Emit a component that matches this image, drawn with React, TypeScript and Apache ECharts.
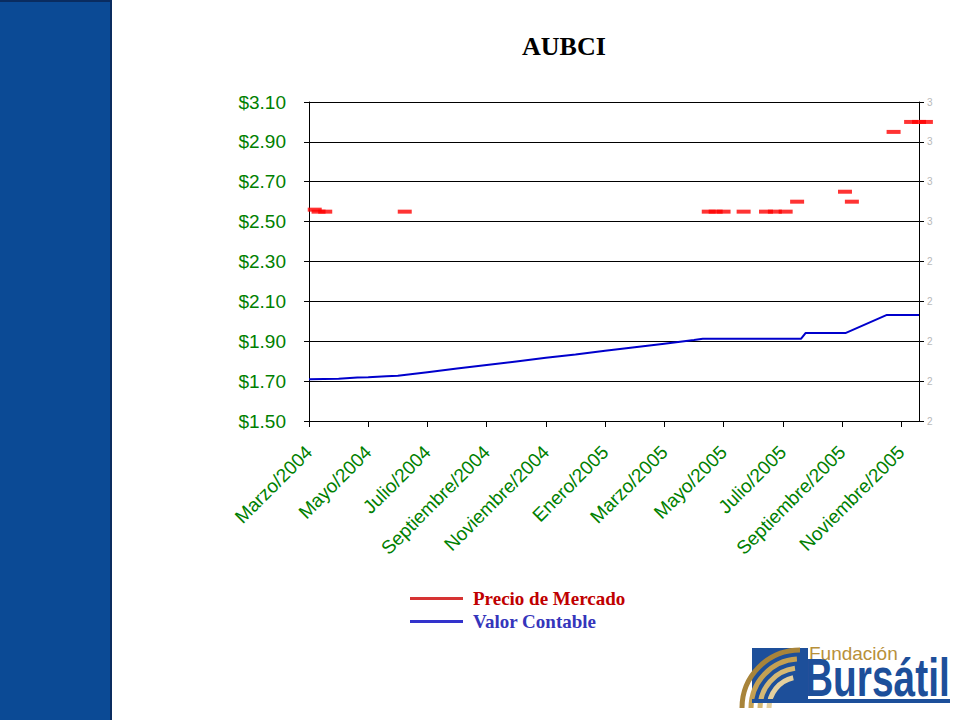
import React, { useEffect, useRef } from "react";
import * as echarts from "echarts";

// ---- data ----
const xTickLabels = [
  "Marzo/2004", "Mayo/2004", "Julio/2004", "Septiembre/2004", "Noviembre/2004",
  "Enero/2005", "Marzo/2005", "Mayo/2005", "Julio/2005", "Septiembre/2005", "Noviembre/2005",
];

const marketDates = [
  "2004-03-07", "2004-03-11", "2004-03-18", "2004-06-08",
  "2005-04-16", "2005-04-23", "2005-05-01", "2005-05-22",
  "2005-06-14", "2005-06-23", "2005-07-04", "2005-07-16",
  "2005-09-04", "2005-09-11", "2005-10-24",
  "2005-11-11", "2005-11-19", "2005-11-26",
];
const marketPrices = [
  2.56, 2.55, 2.55, 2.55,
  2.55, 2.55, 2.55, 2.55,
  2.55, 2.55, 2.55, 2.6,
  2.65, 2.6, 2.95,
  3.0, 3.0, 3.0,
];

const bookDates = [
  "2004-03-01", "2004-04-01", "2004-04-20", "2004-05-01", "2004-05-20", "2004-06-01",
  "2004-07-01", "2004-08-01", "2004-09-01", "2004-10-01", "2004-11-01", "2004-12-01",
  "2005-01-01", "2005-02-01", "2005-03-01", "2005-04-01", "2005-04-10", "2005-07-20",
  "2005-07-25", "2005-09-05", "2005-10-17", "2005-11-19",
];
const bookValues = [
  1.71, 1.712, 1.718, 1.72, 1.725, 1.727,
  1.745, 1.763, 1.781, 1.799, 1.817, 1.834,
  1.852, 1.87, 1.888, 1.906, 1.912, 1.912,
  1.942, 1.942, 2.032, 2.032,
];

const axisStartDate = "2004-03-01";
const axisEndDate = "2005-11-19";

// fractional month position counted from March 2004
const monthPos = (d: string) => {
  const [y, m, day] = d.split("-").map(Number);
  const dim = new Date(y, m, 0).getDate();
  return (y - 2004) * 12 + (m - 3) + (day - 1) / dim;
};

export default function App() {
  const ref = useRef<HTMLDivElement>(null);

  useEffect(() => {
    if (!ref.current) return;
    const chart = echarts.init(ref.current, null, { renderer: "svg" });
    const green = "#008000";
    const blue = "#1d4f9a";

    chart.setOption({
      animation: false,
      backgroundColor: "#ffffff",
      title: {
        text: "AUBCI",
        left: 517,
        top: 28,
        textStyle: {
          fontFamily: "Liberation Serif",
          fontWeight: "bold",
          fontSize: 26,
          color: "#000000",
        },
      },
      legend: {
        orient: "vertical",
        left: 410,
        top: 589,
        padding: 0,
        itemWidth: 53,
        itemHeight: 3,
        itemGap: 4,
        selectedMode: false,
        textStyle: {
          fontFamily: "Liberation Serif",
          fontWeight: "bold",
          fontSize: 19,
          padding: [0, 0, 0, 5],
        },
        data: [
          { name: "Precio de Mercado", icon: "rect", itemStyle: { color: "#cc0000" }, textStyle: { color: "#c00000" } },
          { name: "Valor Contable", icon: "rect", itemStyle: { color: "#3333cc" }, textStyle: { color: "#3535bb" } },
        ],
      },
      grid: { left: 309, right: 41, top: 102, bottom: 299, containLabel: false },
      xAxis: {
        type: "value",
        min: monthPos(axisStartDate),
        max: monthPos(axisEndDate),
        interval: 2,
        axisLine: { show: true, onZero: false, lineStyle: { color: "#000", width: 1 } },
        axisTick: { show: true, inside: false, length: 6, lineStyle: { color: "#000" } },
        splitLine: { show: false },
        axisLabel: {
          rotate: 45,
          margin: 28,
          color: green,
          fontFamily: "Liberation Sans",
          fontSize: 19,
          showMaxLabel: false,
          formatter: (v: number) => {
            const i = Math.round(v / 2);
            return Math.abs(v - i * 2) < 1e-6 && xTickLabels[i] ? xTickLabels[i] : "";
          },
        },
      },
      yAxis: [
        {
          type: "value",
          min: 1.5,
          max: 3.1,
          interval: 0.2,
          position: "left",
          axisLine: { show: true, lineStyle: { color: "#000", width: 1 } },
          axisTick: { show: true, inside: false, length: 5, lineStyle: { color: "#000" } },
          splitLine: { show: true, lineStyle: { color: "#000", width: 1 } },
          axisLabel: {
            color: green,
            fontFamily: "Liberation Sans",
            fontSize: 19,
            margin: 23,
            formatter: (v: number) => "$" + v.toFixed(2),
          },
        },
        {
          type: "value",
          min: 1.5,
          max: 3.1,
          interval: 0.2,
          position: "right",
          axisLine: { show: true, lineStyle: { color: "#000", width: 1 } },
          axisTick: { show: true, inside: false, length: 5, lineStyle: { color: "#000" } },
          splitLine: { show: false },
          axisLabel: {
            color: "#b8b8b8",
            fontFamily: "Liberation Sans",
            fontSize: 10,
            margin: 8,
            formatter: (v: number) => String(Math.round(v)),
          },
        },
      ],
      series: [
        {
          name: "Valor Contable",
          type: "line",
          yAxisIndex: 0,
          showSymbol: false,
          symbol: "none",
          lineStyle: { color: "#0000cc", width: 2 },
          itemStyle: { color: "#3333cc" },
          data: bookDates.map((d, i) => [monthPos(d), bookValues[i]]),
          z: 3,
        },
        {
          name: "Precio de Mercado",
          type: "scatter",
          yAxisIndex: 0,
          symbol: "rect",
          symbolSize: [14, 4],
          clip: false,
          itemStyle: { color: "#ff0000" },
          data: marketDates.map((d, i) => [monthPos(d), marketPrices[i]]),
          z: 4,
        },
      ],
      graphic: [
        { type: "rect", x: 0, y: 0, shape: { width: 112, height: 720 }, style: { fill: "#0b4a95" }, silent: true },
        { type: "rect", x: 110, y: 0, shape: { width: 2, height: 720 }, style: { fill: "#0a2c60" }, silent: true },
        { type: "rect", x: 0, y: 0, shape: { width: 112, height: 2 }, style: { fill: "#0a2c60" }, silent: true },
        // logo
        { type: "rect", x: 752, y: 648, shape: { width: 56, height: 52 }, style: { fill: blue }, silent: true },
        { type: "arc", shape: { cx: 800, cy: 708, r: 58, startAngle: Math.PI * 1.0, endAngle: Math.PI * 1.5 }, style: { stroke: "#a8843a", lineWidth: 5, fill: "none" }, silent: true },
        { type: "arc", shape: { cx: 800, cy: 708, r: 49, startAngle: Math.PI * 1.0, endAngle: Math.PI * 1.48 }, style: { stroke: "#c4a052", lineWidth: 5, fill: "none" }, silent: true },
        { type: "arc", shape: { cx: 800, cy: 708, r: 40, startAngle: Math.PI * 1.0, endAngle: Math.PI * 1.46 }, style: { stroke: "#d5b874", lineWidth: 5, fill: "none" }, silent: true },
        { type: "arc", shape: { cx: 800, cy: 708, r: 31, startAngle: Math.PI * 1.0, endAngle: Math.PI * 1.43 }, style: { stroke: "#e3cf9e", lineWidth: 5, fill: "none" }, silent: true },
        {
          type: "text", x: 809, y: 644, silent: true,
          style: { text: "Fundación", fill: "#b8903a", fontSize: 19, fontFamily: "Liberation Sans", verticalAlign: "top" },
        },
        {
          type: "text", x: 805, y: 650, scaleX: 0.72, silent: true,
          style: { text: "Bursátil", fill: blue, fontSize: 54, fontWeight: "bold", fontFamily: "Liberation Sans", verticalAlign: "top" },
        },
        { type: "rect", x: 752, y: 699, shape: { width: 198, height: 4 }, style: { fill: blue }, silent: true },
      ],
    });

    return () => chart.dispose();
  }, []);

  return (
    <div
      ref={ref}
      style={{ position: "fixed", left: 0, top: 0, width: 960, height: 720, background: "#fff" }}
    />
  );
}
